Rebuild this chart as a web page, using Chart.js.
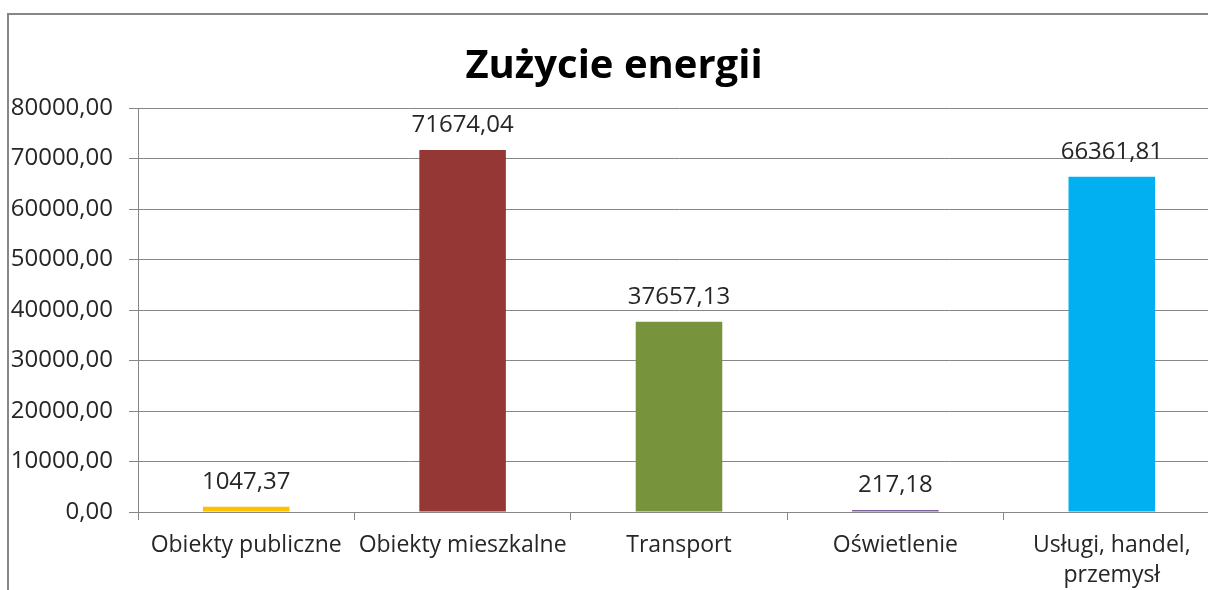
<!DOCTYPE html>
<html lang="pl">
<head>
<meta charset="utf-8">
<script src="https://cdn.jsdelivr.net/npm/chart.js@4/dist/chart.umd.min.js"></script>
<style>
  html, body { margin: 0; padding: 0; background: #fff; overflow: hidden; }
  #wrap { position: relative; width: 1208px; height: 590px; overflow: hidden; }
  #frame {
    position: absolute; left: 7px; top: 13px; right: -10px; bottom: -10px;
    border-left: 2px solid #878787; border-top: 2px solid #878787;
  }
  #chart { position: absolute; left: 0; top: 0; }
</style>
</head>
<body>
<div id="wrap">
  <div id="frame"></div>
  <canvas id="chart" width="1220" height="590"></canvas>
</div>
<script>
// Dane
const categories = ['Obiekty publiczne', 'Obiekty mieszkalne', 'Transport', 'Oświetlenie', ['Usługi, handel,', 'przemysł']];
const energyValues = [1047.37, 71674.04, 37657.13, 217.18, 66361.81];
const barColors = ['#FFC000', '#953735', '#77933C', '#8064A2', '#00B0F0'];
const yMin = 0;
const yMax = 80000;
const yStep = 10000;

const FONT = "'Open Sans', sans-serif";
const GRID = '#878787';

// Format liczb z przecinkiem
const formatNum = (v) => v.toFixed(2).replace('.', ',');

// Etykiety wartości nad słupkami
const valueLabels = {
    id: 'valueLabels',
    afterDatasetsDraw(chart) {
        const ctx = chart.ctx;
        const meta = chart.getDatasetMeta(0);
        ctx.save();
        ctx.font = `24px ${FONT}`;
        ctx.fillStyle = '#262626';
        ctx.textAlign = 'center';
        ctx.textBaseline = 'alphabetic';
        meta.data.forEach((bar, i) => {
            ctx.fillText(formatNum(energyValues[i]), bar.x, bar.y - 18);
        });
        ctx.restore();
    }
};

Chart.defaults.font.family = FONT;
Chart.defaults.color = '#262626';

new Chart(document.getElementById('chart'), {
    type: 'bar',
    data: {
        labels: categories,
        datasets: [{
            data: energyValues,
            backgroundColor: barColors,
            borderWidth: 0,
            minBarLength: 2,
            categoryPercentage: 1,
            barPercentage: 0.4
        }]
    },
    options: {
        responsive: false,
        animation: false,
        devicePixelRatio: 1,
        layout: { padding: { left: 8 } },
        plugins: {
            legend: { display: false },
            tooltip: { enabled: false },
            title: {
                display: true,
                text: 'Zużycie energii',
                color: '#000',
                font: { size: 40, weight: 'bold', family: FONT },
                padding: { top: 43, bottom: 17 }
            }
        },
        scales: {
            x: {
                afterFit(scale) { scale.height = 78; },
                grid: {
                    offset: true,
                    drawOnChartArea: false,
                    drawTicks: true,
                    tickLength: 8,
                    color: GRID
                },
                border: { color: GRID },
                ticks: {
                    font: { size: 23, lineHeight: 1.3 },
                    padding: 11,
                    maxRotation: 0,
                    autoSkip: false
                }
            },
            y: {
                min: yMin,
                max: yMax,
                afterFit(scale) { scale.width = 130; },
                grid: { color: GRID, tickLength: 9 },
                border: { color: GRID },
                ticks: {
                    stepSize: yStep,
                    font: { size: 24 },
                    padding: 16,
                    callback: (v) => formatNum(v)
                }
            }
        }
    },
    plugins: [valueLabels]
});
</script>
</body>
</html>
